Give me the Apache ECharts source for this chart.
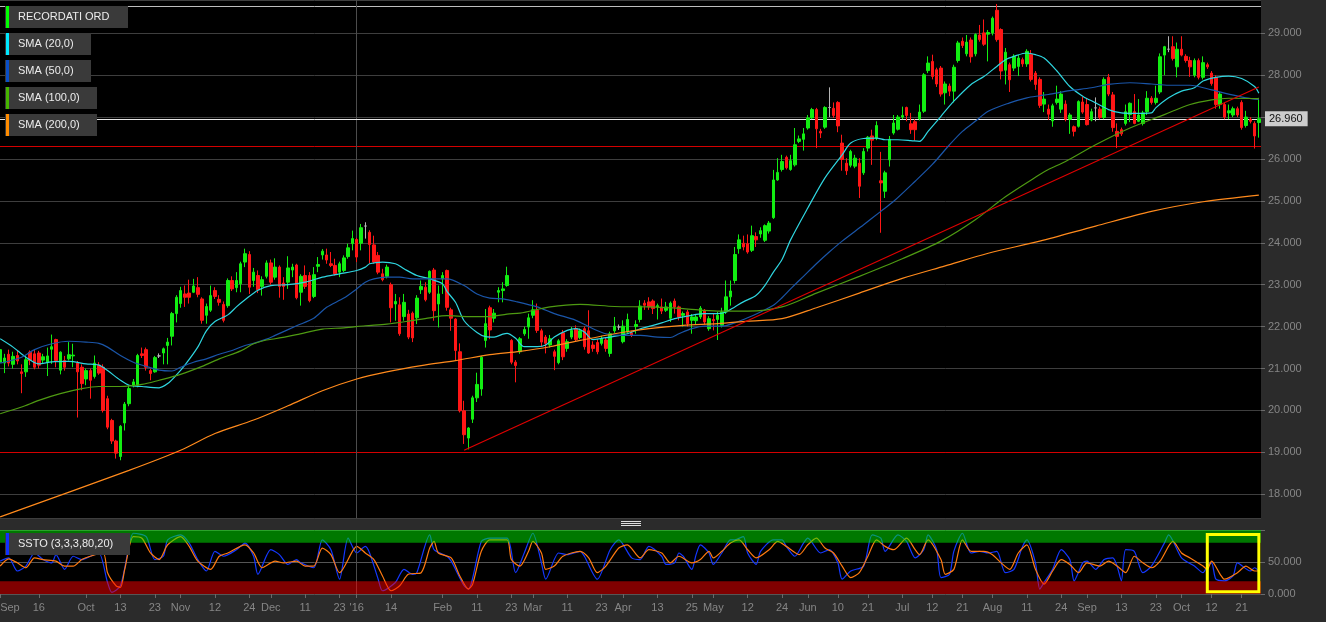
<!DOCTYPE html>
<html><head><meta charset="utf-8">
<script src="https://cdn.jsdelivr.net/npm/echarts@6.0.0/dist/echarts.min.js"></script>
<style>html,body{margin:0;padding:0;background:#2b2b2b;}#c{width:1326px;height:622px;}</style>
</head><body><div id="c"></div>
<script>
// ---------- DATA ----------
const startDate = '2015-09-03', endDate = '2016-10-27';
const holidays = ['2015-12-24','2015-12-25','2015-12-31','2016-01-01','2016-03-25','2016-03-28','2016-08-15'];

// daily bars: [open, high, low, close]
const bars = [
[21.15,21.6,20.96,21.45],[21.13,21.35,20.89,21.25],[21.34,21.45,21.05,21.13],[21.1,21.4,21.0,21.29],[21.31,21.43,21.1,21.18],
[20.92,21.1,20.41,20.88],[20.92,21.31,20.8,21.21],[21.39,21.43,21.08,21.19],[21.35,21.45,20.98,21.03],[21.37,21.42,21.0,21.08],
[21.2,21.35,21.12,21.28],[21.15,21.5,20.82,21.3],[21.46,21.81,21.11,21.52],[21.69,21.71,21.03,21.19],[20.96,21.41,20.86,21.39],
[21.19,21.3,20.95,21.03],[21.23,21.63,21.19,21.33],[21.3,21.59,21.03,21.32],[21.13,21.18,19.83,20.92],[21.03,21.1,20.48,20.64],
[20.75,21.0,20.6,20.95],[20.95,21.0,20.28,20.72],[20.81,21.31,20.76,21.13],[21.08,21.15,20.85,20.89],[21.03,21.1,19.95,20.0],
[20.28,20.35,19.55,19.6],[19.76,19.8,19.2,19.27],[19.27,19.3,18.85,18.98],[18.9,19.65,18.81,19.62],[19.7,20.2,19.52,20.15],
[20.16,20.6,20.1,20.52],[20.6,20.75,20.55,20.68],[20.6,21.35,20.55,21.31],[21.35,21.5,21.25,21.31],[21.45,21.5,20.95,21.03],
[20.95,21.0,20.72,20.88],[20.92,21.3,20.9,21.26],[21.3,21.36,21.25,21.3],[21.37,21.5,21.1,21.47],[21.55,21.73,21.1,21.63],
[21.77,22.35,21.55,22.31],[22.31,22.75,22.1,22.7],[22.55,22.95,22.45,22.86],[22.78,22.98,22.47,22.7],[22.8,23.12,22.55,22.7],
[22.82,23.14,22.8,22.97],[22.93,23.18,22.7,22.77],[22.66,22.7,22.07,22.15],[22.27,22.55,22.07,22.48],[22.39,22.98,22.35,22.74],
[22.86,22.94,22.66,22.72],[22.65,22.75,22.5,22.58],[22.53,22.6,22.1,22.15],[22.5,23.15,22.45,23.1],[23.1,23.2,22.85,22.9],
[22.93,23.3,22.82,23.1],[23.02,23.55,22.82,23.5],[23.54,23.86,23.42,23.74],[23.72,23.8,22.78,22.94],[23.1,23.4,22.95,23.3],
[23.22,23.34,22.8,22.88],[22.96,23.2,22.74,23.12],[23.2,23.58,23.15,23.52],[23.52,23.6,23.0,23.06],[23.18,23.63,23.12,23.42],
[23.42,23.46,22.69,22.96],[23.04,23.18,22.64,22.96],[23.06,23.68,22.9,23.4],[23.35,23.5,23.18,23.42],[23.47,23.5,22.65,22.69],
[22.82,23.25,22.5,23.2],[23.22,23.46,22.9,22.96],[23.22,23.3,22.58,22.62],[22.72,23.42,22.68,23.24],[23.44,23.66,23.3,23.48],
[23.71,23.85,23.6,23.8],[23.71,23.86,23.5,23.59],[23.5,23.78,23.42,23.46],[23.46,23.62,23.22,23.26],[23.3,23.55,23.18,23.5],
[23.34,23.7,23.3,23.64],[23.67,23.98,23.62,23.88],[23.98,24.29,23.82,24.1],[24.08,24.12,23.54,23.66],[23.99,24.45,23.82,24.36],
[24.4,24.49,24.1,24.4],[24.25,24.3,23.5,23.96],[23.95,24.17,23.5,23.54],[23.7,23.78,23.25,23.3],[23.26,23.38,23.08,23.12],
[23.2,23.48,23.15,23.42],[23.0,23.05,22.1,22.45],[22.54,22.78,22.14,22.6],[22.52,22.7,21.78,21.83],[22.24,22.78,22.14,22.58],
[22.3,22.4,21.7,21.75],[22.32,22.36,21.63,21.73],[22.21,22.75,22.06,22.68],[22.88,23.1,22.78,22.96],[22.94,23.06,22.6,22.64],
[22.82,23.34,22.78,23.32],[23.35,23.4,22.14,22.38],[22.54,22.98,21.98,22.78],[23.14,23.3,22.78,23.22],[23.34,23.36,22.38,22.46],
[22.4,22.45,21.9,22.2],[22.18,22.2,21.19,21.43],[21.4,21.6,19.95,19.99],[19.99,20.23,19.2,19.42],[19.34,19.6,19.07,19.58],
[19.79,20.35,19.7,20.3],[20.3,20.9,20.2,20.62],[20.51,21.3,20.35,21.27],[21.67,22.42,21.5,22.07],[22.45,22.5,21.7,21.92],
[22.2,22.42,22.1,22.32],[22.82,22.94,22.58,22.86],[22.86,23.06,22.58,22.9],[22.98,23.43,22.95,23.22],[21.67,21.7,21.1,21.15],
[21.15,21.2,20.67,21.07],[21.4,21.75,21.35,21.71],[21.83,22.0,21.78,21.93],[21.99,22.31,21.71,22.21],[22.27,22.63,22.2,22.4],
[22.39,22.55,21.85,21.91],[21.9,21.95,21.52,21.63],[21.75,21.8,21.36,21.6],[21.56,21.8,21.5,21.71],[21.4,21.45,20.96,21.29],
[21.14,21.7,21.1,21.66],[21.85,21.92,21.2,21.28],[21.48,21.7,21.4,21.64],[21.75,21.99,21.7,21.91],[21.95,22.03,21.65,21.69],
[21.74,21.95,21.7,21.9],[21.95,22.0,21.45,21.52],[21.9,22.39,21.35,21.37],[21.56,21.65,21.4,21.48],[21.62,21.7,21.34,21.4],
[21.6,21.78,21.55,21.72],[21.68,21.75,21.4,21.48],[21.36,21.88,21.28,21.83],[21.9,22.23,21.85,22.01],[21.99,22.05,21.92,21.99],
[21.64,22.15,21.6,22.01],[21.87,22.31,21.85,22.17],[21.85,21.9,21.75,21.8],[22.0,22.15,21.83,22.05],[22.17,22.63,22.1,22.49],
[22.56,22.63,22.4,22.51],[22.59,22.7,22.4,22.47],[22.61,22.65,22.3,22.43],[22.47,22.55,22.17,22.5],[22.47,22.67,22.3,22.37],
[22.39,22.59,22.35,22.47],[22.2,22.6,22.11,22.56],[22.61,22.67,22.31,22.47],[22.47,22.5,22.15,22.23],[22.27,22.36,22.0,22.31],
[22.35,22.4,22.0,22.07],[22.15,22.3,21.83,22.23],[22.14,22.28,22.05,22.23],[22.23,22.49,22.18,22.44],[22.39,22.42,22.05,22.11],
[21.95,22.25,21.9,22.19],[22.17,22.31,21.91,22.14],[22.17,22.35,21.68,22.27],[22.03,22.45,21.98,22.35],[22.35,23.1,22.3,22.71],
[22.71,23.1,22.5,22.85],[23.1,23.9,23.03,23.72],[23.86,24.2,23.74,24.07],[23.99,24.17,23.82,23.9],[23.98,24.2,23.74,23.78],
[23.82,24.41,23.78,24.17],[24.15,24.25,23.9,24.07],[24.21,24.37,24.12,24.29],[24.06,24.44,24.02,24.41],[24.28,24.52,24.22,24.47],
[24.6,25.74,24.57,25.5],[25.5,26.02,25.48,25.68],[25.75,26.1,25.7,25.94],[26.04,26.08,25.75,25.79],[25.75,26.1,25.72,25.96],
[25.86,26.74,25.82,26.34],[26.42,26.56,26.38,26.48],[26.47,26.74,26.2,26.6],[26.74,27.05,26.7,26.98],[26.98,27.22,26.95,27.18],
[27.18,27.22,26.26,26.72],[26.66,26.72,26.5,26.62],[26.76,27.26,26.72,27.23],[27.23,27.71,27.0,27.23],[27.21,27.35,26.98,27.04],
[27.35,27.38,26.64,26.79],[26.38,26.58,25.72,25.99],[25.9,26.02,25.62,25.72],[25.85,26.22,25.8,26.18],[25.83,26.1,25.78,26.02],
[25.9,26.02,25.07,25.35],[25.67,26.26,25.62,26.18],[26.26,26.55,26.18,26.52],[26.55,26.7,25.86,26.45],[26.5,26.9,26.45,26.8],
[25.48,26.17,24.24,25.43],[25.23,25.72,25.07,25.67],[25.98,26.55,25.82,26.47],[26.62,27.05,26.58,26.86],[26.71,27.05,26.68,27.0],
[27.0,27.25,26.95,27.04],[27.23,27.25,26.9,27.04],[26.84,27.1,26.6,26.7],[26.89,26.95,26.44,26.7],[26.96,27.3,26.92,27.12],
[27.14,28.05,27.1,28.01],[28.11,28.45,28.05,28.29],[28.33,28.49,27.9,27.97],[28.13,28.18,27.72,27.79],[28.17,28.22,27.49,27.55],
[27.58,27.85,27.3,27.79],[27.74,27.8,27.5,27.62],[27.62,28.25,27.35,28.19],[28.35,28.82,28.3,28.77],[28.81,28.9,28.65,28.71],
[28.51,28.96,28.45,28.79],[28.84,28.9,28.3,28.44],[28.51,29.0,28.45,28.97],[28.96,29.2,28.8,28.85],[29.01,29.33,28.7,28.74],
[28.98,29.08,28.33,29.02],[29.01,29.4,28.95,29.36],[29.55,29.7,28.8,28.85],[29.09,29.12,27.9,28.1],[28.12,28.65,27.78,28.55],
[28.25,28.3,27.6,27.89],[28.17,28.5,28.1,28.45],[28.21,28.48,27.98,28.41],[28.37,28.42,28.2,28.27],[28.27,28.62,28.2,28.57],
[28.5,28.6,27.85,27.9],[28.05,28.1,27.65,27.78],[27.9,27.95,27.22,27.28],[27.31,27.6,27.12,27.43],[27.19,27.3,26.93,27.07],
[26.91,27.32,26.77,27.27],[27.35,27.75,27.3,27.43],[27.19,27.62,27.1,27.55],[27.31,27.4,26.9,26.95],[26.95,27.1,26.6,27.05],
[26.77,26.8,26.54,26.66],[26.78,27.4,26.75,27.37],[27.36,27.48,27.08,27.12],[27.3,27.45,26.8,26.82],[26.93,27.2,26.9,27.13],
[27.22,27.47,26.9,27.22],[27.19,27.25,26.95,26.99],[26.99,27.95,26.95,27.9],[27.95,28.03,27.5,27.55],[27.53,27.6,26.65,26.75],
[26.66,26.85,26.26,26.54],[26.7,26.75,26.55,26.6],[26.85,27.3,26.8,27.13],[27.06,27.35,26.88,27.33],[27.13,27.55,26.83,26.85],
[26.9,27.43,26.88,27.05],[26.85,27.15,26.8,27.1],[27.13,27.62,27.05,27.45],[27.45,27.5,27.3,27.35],[27.35,27.75,27.3,27.45],
[27.6,28.52,27.55,28.44],[28.48,28.7,28.0,28.68],[28.62,28.93,28.55,28.62],[28.68,28.93,28.35,28.4],[28.2,28.78,27.95,28.62],
[28.62,28.93,28.45,28.48],[28.45,28.5,28.3,28.35],[28.35,28.44,27.96,28.2],[28.0,28.4,27.95,28.35],[28.35,28.4,27.9,27.95],
[27.95,28.45,27.9,28.3],[28.25,28.3,28.15,28.2],[28.05,28.1,27.75,27.8],[27.95,28.0,27.2,27.3],[27.3,27.6,27.2,27.55],
[27.3,27.35,26.95,27.0],[27.1,27.3,26.95,27.15],[27.05,27.25,27.0,27.2],[27.2,27.25,27.0,27.05],[27.35,27.4,26.7,26.75],
[26.8,27.15,26.75,27.0],[26.95,27.0,26.85,26.9],[26.85,26.9,26.25,26.55],[26.87,27.46,26.51,26.96]
];

// moving averages: [day index, value]
const sma20 = [[0,21.71],[3,21.51],[6,21.27],[9,21.11],[12,21.16],[16,21.17],[20,21.11],[23,21.08],[25,20.95],[28,20.72],[30,20.6],[33,20.57],[37,20.54],[39,20.64],[41,20.84],[43,21.08],[46,21.51],[48,21.9],[50,22.12],[53,22.28],[55,22.47],[57,22.64],[60,22.87],[63,22.98],[67,23.0],[71,23.06],[75,23.18],[79,23.26],[83,23.34],[85,23.42],[86,23.5],[89,23.54],[92,23.5],[94,23.38],[97,23.22],[100,23.14],[103,23.02],[104,22.84],[106,22.58],[108,22.14],[111,21.86],[113,21.76],[115,21.75],[117,21.82],[118,21.84],[120,21.72],[122,21.52],[125,21.52],[127,21.56],[129,21.75],[132,21.91],[134,21.95],[136,21.87],[138,21.69],[140,21.72],[142,21.75],[146,21.83],[149,21.95],[152,22.03],[154,22.09],[157,22.19],[160,22.25],[162,22.29],[164,22.31],[167,22.31],[169,22.35],[171,22.47],[173,22.59],[176,22.75],[178,22.98],[180,23.3],[182,23.6],[184,24.07],[188,24.83],[192,25.55],[196,26.1],[198,26.38],[201,26.49],[204,26.5],[206,26.46],[209,26.46],[212,26.44],[214,26.42],[216,26.66],[219,27.02],[222,27.38],[226,27.78],[229,27.97],[232,28.21],[234,28.37],[236,28.45],[239,28.53],[241,28.49],[243,28.41],[246,28.1],[249,27.73],[252,27.5],[255,27.34],[258,27.18],[261,27.1],[263,27.09],[265,27.09],[268,27.1],[269,27.22],[272,27.46],[275,27.62],[278,27.7],[280,27.86],[283,27.95],[286,27.98],[289,27.92],[292,27.73],[293,27.57]];
const sma50 = [[0,21.13],[5,21.27],[8,21.45],[12,21.59],[16,21.65],[20,21.63],[23,21.6],[25,21.51],[28,21.31],[31,21.15],[34,21.05],[37,20.96],[40,20.94],[42,21.03],[45,21.15],[48,21.23],[51,21.34],[54,21.43],[57,21.55],[59,21.6],[62,21.7],[64,21.79],[69,22.02],[73,22.2],[76,22.46],[80,22.68],[83,22.9],[85,23.06],[87,23.14],[90,23.18],[93,23.18],[96,23.14],[102,23.14],[104,23.14],[108,22.98],[111,22.78],[114,22.68],[117,22.66],[120,22.6],[125,22.47],[129,22.31],[134,22.15],[138,21.95],[141,21.83],[145,21.79],[149,21.79],[153,21.75],[156,21.74],[158,21.83],[161,21.95],[164,22.01],[168,22.01],[171,22.09],[174,22.21],[177,22.35],[180,22.51],[182,22.69],[184,22.9],[187,23.2],[190,23.5],[193,23.78],[196,24.04],[201,24.43],[205,24.75],[208,24.99],[213,25.47],[217,25.87],[221,26.34],[224,26.66],[227,26.9],[230,27.14],[235,27.34],[239,27.46],[242,27.51],[244,27.54],[249,27.63],[254,27.7],[258,27.78],[263,27.82],[268,27.79],[272,27.76],[277,27.76],[282,27.65],[286,27.55],[290,27.46],[293,27.42]];
const sma100 = [[0,19.92],[5,20.08],[9,20.24],[14,20.4],[19,20.52],[23,20.57],[28,20.57],[33,20.62],[37,20.72],[42,20.86],[47,21.05],[51,21.23],[56,21.42],[59,21.59],[62,21.68],[64,21.71],[69,21.81],[75,21.94],[80,21.97],[85,22.02],[90,22.06],[95,22.13],[100,22.21],[104,22.26],[109,22.24],[114,22.24],[118,22.3],[121,22.32],[128,22.47],[135,22.53],[143,22.48],[151,22.47],[159,22.43],[167,22.37],[174,22.37],[182,22.47],[190,22.8],[200,23.2],[210,23.62],[219,24.04],[227,24.55],[234,25.1],[242,25.63],[244,25.75],[248,25.94],[255,26.34],[263,26.74],[271,27.06],[277,27.3],[282,27.41],[286,27.45],[293,27.44]];
const sma200 = [[0,17.46],[30,18.57],[42,19.05],[50,19.45],[59,19.77],[67,20.11],[75,20.47],[83,20.75],[90,20.92],[98,21.07],[106,21.19],[114,21.33],[121,21.41],[128,21.52],[135,21.67],[143,21.83],[151,21.95],[159,22.03],[167,22.07],[174,22.13],[182,22.19],[190,22.45],[200,22.8],[210,23.15],[220,23.45],[230,23.75],[242,24.04],[255,24.4],[268,24.75],[280,24.98],[293,25.14]];
const trendLine = [[108,19.05],[293,27.72]];
const levels = { top: 29.64, last: 26.96, supportHigh: 26.30, supportLow: 19.0 };
const yearMark = '2016-01-04';

// slow stochastic (3,3,3,80,20): [day index, value]
const stoK = [[0,51.3],[2,56.4],[4,35.9],[6,43.6],[8,64.1],[10,53.8],[12,48.7],[13,61.5],[15,38.5],[17,59],[19,53.8],[21,59],[23,64.1],[25,17.9],[26,2.6],[28,12.8],[30,74.4],[31,94.9],[34,89.7],[36,53.8],[38,59],[39,84.6],[42,92.3],[44,79.5],[46,53.8],[48,35.9],[50,66.7],[52,59],[55,69.2],[57,79.5],[59,59],[60,30.8],[63,69.2],[65,61.5],[67,46.2],[69,53.8],[70,48.7],[73,41],[75,84.6],[77,69.2],[79,23.1],[81,87.2],[83,64.1],[85,74.4],[86,64.1],[88,23.1],[89,5.1],[92,17.9],[94,38.5],[96,30.8],[97,33.3],[100,92.3],[101,69.2],[104,59],[105,51.3],[108,12.8],[109,7.7],[112,82.1],[114,87.2],[118,87.2],[120,33.3],[122,64.1],[124,94.9],[126,48.7],[127,23.1],[130,64.1],[132,61.5],[135,66.7],[136,59],[139,23.1],[142,69.2],[144,84.6],[147,56.4],[149,53.8],[151,74.4],[154,59],[155,46.2],[157,48.7],[158,64.1],[159,59],[161,38.5],[162,61.5],[163,76.9],[165,64.1],[166,46.2],[168,64.1],[170,84.6],[171,84.6],[173,89.7],[174,64.1],[176,46.2],[177,66.7],[180,84.6],[182,84.6],[183,74.4],[185,59],[187,79.5],[188,87.2],[191,64.1],[193,69.2],[195,48.7],[196,23.1],[198,35.9],[201,43.6],[203,92.3],[205,87.2],[206,66.7],[209,92.3],[211,82.1],[213,56.4],[215,69.2],[216,92.3],[218,69.2],[219,25.6],[221,30.8],[222,66.7],[224,94.9],[226,64.1],[228,66.7],[230,64.1],[232,66.7],[234,33.3],[236,38.5],[238,74.4],[239,84.6],[241,48.7],[242,7.7],[243,17.9],[245,38.5],[247,69.2],[249,53.8],[250,20.5],[252,48.7],[253,51.3],[255,38.5],[257,53.8],[259,56.4],[260,43.6],[261,20.5],[262,69.2],[264,66.7],[266,33.3],[268,43.6],[271,79.5],[272,92.3],[275,56.4],[278,43.6],[280,33.3],[281,43.6],[282,48.7],[283,23.1],[285,20.5],[287,28.2],[288,48.7],[291,35.9],[292,41],[293,35.9]];
const stoD = [[0,43.6],[2,54.9],[4,48.7],[6,41],[8,56.4],[10,53.8],[13,51.3],[15,43.6],[17,43.6],[19,53.8],[21,59],[24,64.1],[25,33.3],[27,12.8],[28,10.3],[29,38.5],[31,89.7],[33,87.2],[35,64.1],[37,53.8],[39,76.9],[42,89.7],[44,74.4],[46,51.3],[49,38.5],[51,59],[53,64.1],[57,76.9],[59,64.1],[61,41],[64,51.3],[66,48.7],[69,51.3],[71,43.6],[73,43.6],[75,71.8],[77,61.5],[79,33.3],[82,66.7],[83,74.4],[85,64.1],[87,53.8],[89,28.2],[91,5.1],[93,12.8],[95,30.8],[98,33.3],[100,71.8],[101,82.1],[102,64.1],[105,56.4],[107,28.2],[109,7.7],[110,15.4],[112,66.7],[114,84.6],[118,84.6],[119,53.8],[121,43.6],[123,66.7],[124,82.1],[126,64.1],[127,38.5],[129,43.6],[131,59],[135,66.7],[137,56.4],[139,33.3],[141,43.6],[144,71.8],[146,76.9],[149,56.4],[151,69.2],[154,64.1],[156,48.7],[158,59],[161,48.7],[163,53.8],[165,66.7],[166,56.4],[168,66.7],[170,79.5],[172,84.6],[174,69.2],[176,56.4],[179,69.2],[181,82.1],[183,74.4],[186,61.5],[188,76.9],[190,87.2],[192,71.8],[194,64.1],[196,43.6],[198,25.6],[200,33.3],[202,59],[204,84.6],[206,74.4],[208,69.2],[211,87.2],[213,69.2],[214,61.5],[216,84.6],[219,53.8],[220,30.8],[222,38.5],[224,84.6],[226,66.7],[229,66.7],[231,61.5],[233,48.7],[235,38.5],[237,64.1],[239,76.9],[241,38.5],[243,15.4],[245,35.9],[247,53.8],[249,46.2],[251,33.3],[253,48.7],[256,43.6],[258,51.3],[260,43.6],[262,33.3],[264,59],[266,48.7],[268,41],[270,51.3],[273,82.1],[275,64.1],[277,56.4],[280,43.6],[281,38.5],[282,51.3],[284,30.8],[285,23.1],[288,33.3],[290,43.6],[292,35.9],[293,35.9]];
const stoBands = { over: [80, 100], under: [0, 20] };
const highlightBox = { from: '2016-10-11', to: '2016-10-27', top: 93, bottom: 3.5 };

const tickDates = ['2015-09-03','2015-09-16','2015-10-01','2015-10-13','2015-10-23','2015-11-02','2015-11-12','2015-11-24','2015-12-01','2015-12-11','2015-12-23','2016-01-04','2016-01-14','2016-02-01','2016-02-11','2016-02-23','2016-03-01','2016-03-11','2016-03-23','2016-04-01','2016-04-13','2016-04-25','2016-05-02','2016-05-12','2016-05-24','2016-06-01','2016-06-10','2016-06-21','2016-07-01','2016-07-12','2016-07-21','2016-08-01','2016-08-11','2016-08-24','2016-09-01','2016-09-13','2016-09-23','2016-10-03','2016-10-12','2016-10-21'];
const tickTexts = ['Sep','16','Oct','13','23','Nov','12','24','Dec','11','23',"'16",'14','Feb','11','23','Mar','11','23','Apr','13','25','May','12','24','Jun','10','21','Jul','12','21','Aug','11','24','Sep','13','23','Oct','12','21'];

const legendNames = ['RECORDATI ORD','SMA (20,0)','SMA (50,0)','SMA (100,0)','SMA (200,0)'];
const oscName = 'SSTO (3,3,3,80,20)';

// ---------- BUILD ----------
function tradingDays(s, e, hol) {
  const out = []; let t = Date.parse(s + 'T00:00:00Z'); const end = Date.parse(e + 'T00:00:00Z');
  while (t <= end) { const d = new Date(t); const wd = d.getUTCDay(); const iso = d.toISOString().slice(0, 10);
    if (wd !== 0 && wd !== 6 && hol.indexOf(iso) < 0) out.push(iso); t += 86400000; }
  return out;
}
const dates = tradingDays(startDate, endDate, holidays);
const tickMap = {}; tickDates.forEach((d, i) => tickMap[d] = tickTexts[i]);
const showTick = (i, v) => Object.prototype.hasOwnProperty.call(tickMap, v);

const UP = '#12ee12', DOWN = '#ff1616', DOJI = '#b4b4b4';
const candleData = bars.map(b => {
  const item = { value: [b[0], b[3], b[2], b[1]] };
  if (b[0] === b[3]) item.itemStyle = { color: DOJI, color0: DOJI, borderColor: DOJI, borderColor0: DOJI };
  return item;
});
const FONT = 'Liberation Sans, Arial, sans-serif';
const AXIS_TXT = '#868686';
const GRID_LINE = '#3e3e3e';

const chart = echarts.init(document.getElementById('c'), null, { renderer: 'canvas' });

function smaSeries(name, data, color) {
  return { name, type: 'line', xAxisIndex: 0, yAxisIndex: 0, data, smooth: 0.3, showSymbol: false,
    symbol: 'none', silent: true, lineStyle: { color, width: 1.2 }, z: 3 };
}

const legendColors = ['#00ff00', '#00e8ff', '#0a4fc8', '#46b400', '#ff8c00'];
const legendWidths = [123, 86, 86, 92, 92];
const graphics = [];
legendNames.forEach((n, i) => {
  const y = 6 + i * 27;
  graphics.push({ type: 'rect', left: 5, top: y, shape: { width: legendWidths[i], height: 22 }, style: { fill: '#3a3a3a' }, z: 100 });
  graphics.push({ type: 'rect', left: 6, top: y, shape: { width: 3, height: 22 }, style: { fill: legendColors[i] }, z: 101 });
  graphics.push({ type: 'text', left: 18, top: y + 5, style: { text: n, fill: '#ececec', font: '11px ' + FONT }, z: 101 });
});
graphics.push({ type: 'rect', left: 5, top: 533, shape: { width: 125, height: 22 }, style: { fill: '#3a3a3a' }, z: 100 });
graphics.push({ type: 'rect', left: 6, top: 533, shape: { width: 3, height: 22 }, style: { fill: '#1030ff' }, z: 101 });
graphics.push({ type: 'text', left: 18, top: 538, style: { text: oscName, fill: '#ececec', font: '11px ' + FONT }, z: 101 });
[521.5, 523.5, 525.5].forEach(y => graphics.push({ type: 'line', shape: { x1: 621, y1: y, x2: 641, y2: y }, style: { stroke: '#dddddd', lineWidth: 1 }, z: 100 }));

const option = {
  animation: false,
  backgroundColor: '#2b2b2b',
  textStyle: { fontFamily: FONT },
  grid: [
    { left: -2, right: 65, top: 0, height: 518, show: true, backgroundColor: '#000', borderWidth: 0, containLabel: false, outerBoundsMode: 'none' },
    { left: -2, right: 65, top: 530, height: 64, show: true, backgroundColor: '#000', borderWidth: 0, containLabel: false, outerBoundsMode: 'none' }
  ],
  xAxis: [
    { type: 'category', gridIndex: 0, data: dates, boundaryGap: true, axisLine: { show: false }, axisTick: { show: false }, axisLabel: { show: false }, splitLine: { show: false } },
    { type: 'category', gridIndex: 1, data: dates, boundaryGap: true, axisLine: { show: false },
      axisTick: { show: true, interval: showTick, alignWithLabel: true, length: 4, lineStyle: { color: '#6a6a6a' } },
      axisLabel: { show: true, interval: showTick, formatter: v => tickMap[v] || '', color: AXIS_TXT, fontSize: 11, margin: 8, fontFamily: FONT, alignMinLabel: 'left' },
      splitLine: { show: false } }
  ],
  yAxis: [
    { type: 'value', gridIndex: 0, position: 'right', min: 17.432, max: 29.795, splitNumber: 12, scale: true,
      axisLine: { show: false }, axisTick: { show: true, length: 4, lineStyle: { color: '#6a6a6a' } },
      axisLabel: { color: AXIS_TXT, fontSize: 11, margin: 7, fontFamily: FONT, showMinLabel: false, showMaxLabel: false, formatter: v => v.toFixed(3) },
      splitLine: { show: true, lineStyle: { color: GRID_LINE, width: 1 } } },
    { type: 'value', gridIndex: 1, position: 'right', min: 0, max: 100, interval: 50,
      axisLine: { show: false }, axisTick: { show: true, length: 4, lineStyle: { color: '#6a6a6a' } },
      axisLabel: { color: AXIS_TXT, fontSize: 11, margin: 7, fontFamily: FONT, formatter: v => (v >= 100 ? '' : v.toFixed(3)) },
      splitLine: { show: true, lineStyle: { color: '#555', width: 1 } } }
  ],
  graphic: graphics,
  series: [
    { name: 'RECORDATI ORD', type: 'candlestick', xAxisIndex: 0, yAxisIndex: 0, data: candleData, barWidth: 3, silent: true,
      itemStyle: { color: UP, color0: DOWN, borderColor: UP, borderColor0: DOWN, borderWidth: 1 },
      markLine: { silent: true, symbol: 'none', animation: false, z: 1,
        label: { show: false },
        data: [
          { yAxis: levels.top, lineStyle: { color: '#bdbdbd', width: 1, type: 'solid' } },
          { yAxis: levels.supportHigh, lineStyle: { color: '#d40000', width: 1, type: 'solid' } },
          { yAxis: levels.supportLow, lineStyle: { color: '#d40000', width: 1, type: 'solid' } },
          { xAxis: yearMark, lineStyle: { color: '#4c4c4c', width: 1, type: 'solid' } },
          { yAxis: levels.last, lineStyle: { color: '#e8e8e8', width: 1, type: 'solid' },
            label: { show: true, position: 'end', distance: 4, formatter: () => levels.last.toFixed(3), color: '#111', backgroundColor: '#cdcdcd',
              padding: [2, 5, 2, 4], fontSize: 11, fontFamily: FONT } }
        ] } },
    smaSeries('SMA (20,0)', sma20, '#2fd6e0'),
    smaSeries('SMA (50,0)', sma50, '#1a55a8'),
    smaSeries('SMA (100,0)', sma100, '#4e9a12'),
    smaSeries('SMA (200,0)', sma200, '#ff8a1c'),
    { name: 'trend', type: 'line', xAxisIndex: 0, yAxisIndex: 0, data: trendLine, showSymbol: false, symbol: 'none', silent: true,
      lineStyle: { color: '#e00000', width: 1.1 }, z: 3 },
    { name: '%K', type: 'line', xAxisIndex: 1, yAxisIndex: 1, data: stoK, smooth: 0.25, showSymbol: false, symbol: 'none', silent: true,
      lineStyle: { color: '#1438ff', width: 1.2 }, z: 2,
      markLine: { silent: true, symbol: 'none', label: { show: false }, data: [{ xAxis: yearMark, lineStyle: { color: '#4c4c4c', width: 1, type: 'solid' } }] } },
    { name: '%D', type: 'line', xAxisIndex: 1, yAxisIndex: 1, data: stoD, smooth: 0.25, showSymbol: false, symbol: 'none', silent: true,
      lineStyle: { color: '#ff7a10', width: 1.2 }, z: 2,
      markArea: { silent: true, z: 10, data: [
        [{ yAxis: stoBands.over[0], itemStyle: { color: 'rgba(0,240,0,0.5)' } }, { yAxis: stoBands.over[1] }],
        [{ yAxis: stoBands.under[0], itemStyle: { color: 'rgba(255,0,0,0.5)' } }, { yAxis: stoBands.under[1] }],
        [{ xAxis: highlightBox.from, yAxis: highlightBox.top, itemStyle: { color: 'rgba(0,0,0,0)', borderColor: '#ffff00', borderWidth: 3 } },
         { xAxis: highlightBox.to, yAxis: highlightBox.bottom }]
      ] } }
  ]
};
chart.setOption(option);
</script>
</body></html>
